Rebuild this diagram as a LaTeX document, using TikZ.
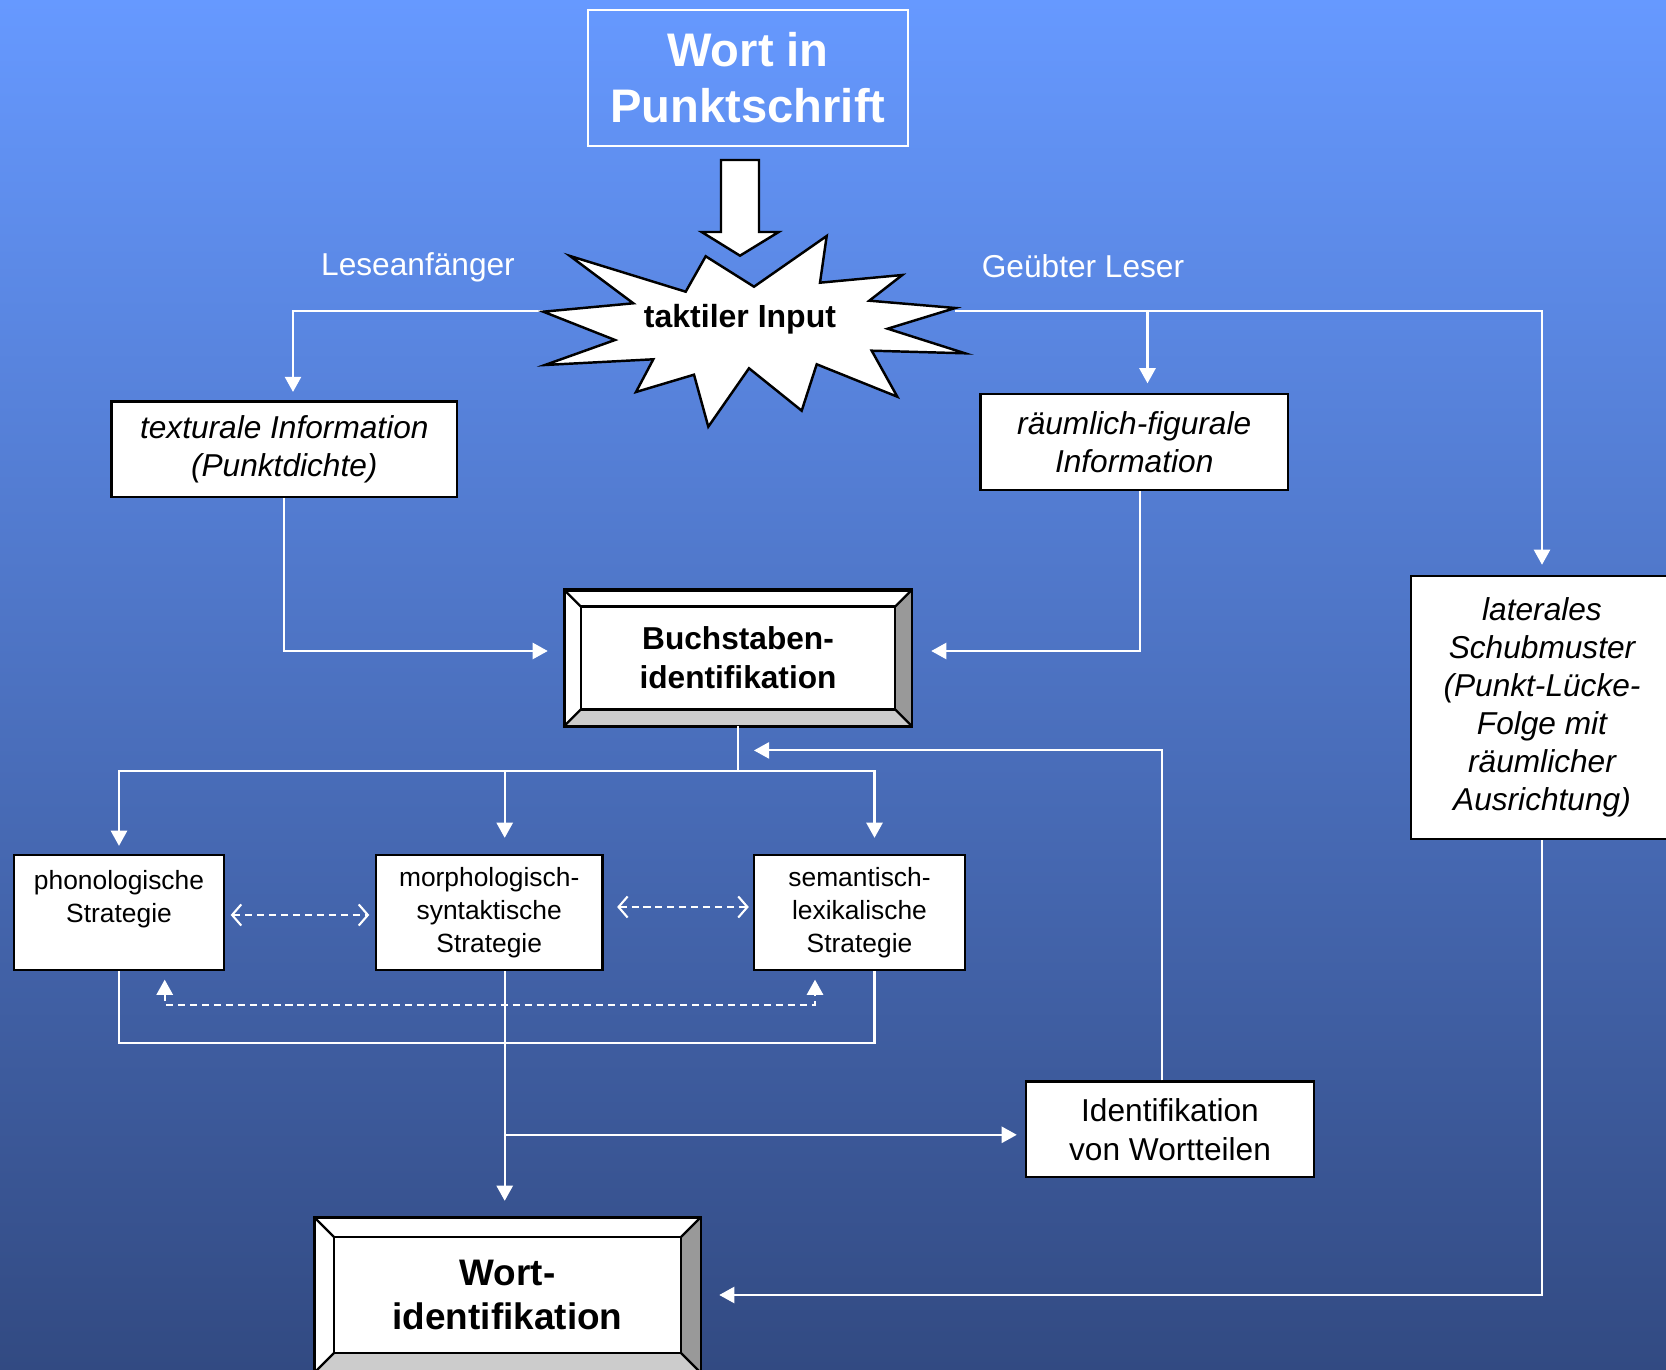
\documentclass[tikz,border=0pt]{standalone}
\usepackage{fontspec}
\setmainfont{Liberation Sans}
\usetikzlibrary{arrows.meta}

\definecolor{slidetop}{RGB}{102,153,255}
\definecolor{slidebottom}{RGB}{50,74,130}
\definecolor{bevelgrey}{RGB}{153,153,153}
\definecolor{bevellight}{RGB}{204,204,204}

\tikzset{
  frame/.style={draw=black, line width=0.65pt, fill=white, align=center, inner sep=0pt},
  strat/.style={frame, minimum height=1.15cm, font=\fontsize{7.5}{9.4}\selectfont},
  info/.style={frame, font=\fontsize{9}{10.8}\selectfont\itshape},
  flow/.style={draw=white, line width=0.6pt, -{Triangle[width=4.6pt,length=4.3pt]}},
  wire/.style={draw=white, line width=0.6pt},
  dashlink/.style={draw=white, line width=0.6pt, dash pattern=on 2pt off 1.4pt,
    {Straight Barb[width=6pt,length=2.6pt]}-{Straight Barb[width=6pt,length=2.6pt]}},
  dashtri/.style={draw=white, line width=0.6pt, dash pattern=on 2pt off 1.4pt,
    {Triangle[width=4.6pt,length=4.3pt]}-{Triangle[width=4.6pt,length=4.3pt]}}
}

% bevel round a node: #1 node name, #2 depth
\newcommand{\bevelframe}[2]{%
  \fill[bevelgrey] (#1.north east) -- (#1.south east)
    -- ([shift={(-#2,-#2)}]#1.south east) -- ([shift={(-#2,#2)}]#1.north east) -- cycle;
  \fill[bevellight] (#1.south west) -- (#1.south east)
    -- ([shift={(-#2,-#2)}]#1.south east) -- ([shift={(#2,-#2)}]#1.south west) -- cycle;
  \draw[line width=0.65pt] ([shift={(#2,#2)}]#1.north west) rectangle ([shift={(-#2,-#2)}]#1.south east);
  \draw[line width=0.65pt] (#1.north west) -- ([shift={(#2,#2)}]#1.north west)
    (#1.north east) -- ([shift={(-#2,#2)}]#1.north east)
    (#1.south west) -- ([shift={(#2,-#2)}]#1.south west)
    (#1.south east) -- ([shift={(-#2,-#2)}]#1.south east);
  \draw[line width=0.65pt] (#1.north west) rectangle (#1.south east);
}

\begin{document}
\begin{tikzpicture}[x=0.01cm, y=-0.01cm]

\useasboundingbox (0,0) rectangle (1666,1370);
\shade[top color=slidetop, bottom color=slidebottom] (0,0) rectangle (1666,1370);

% top
\node[draw=white, line width=0.45pt, minimum width=3.2cm, minimum height=1.36cm, align=center,
      text=white, font=\bfseries\fontsize{13.4}{15.9}\selectfont] (wortin) at (748,78) {Wort in\\Punktschrift};
\draw[fill=white, line width=0.7pt] (721,160) -- (759,160) -- (759,232) -- (778.7,232)
  -- (740,255.7) -- (701.7,232) -- (721,232) -- cycle;

\node[text=white, font=\fontsize{9}{11}\selectfont] (lese) at (418,267) {Leseanfänger};
\node[text=white, font=\fontsize{9}{11}\selectfont] (geuebt) at (1083,266) {Geübter Leser};

\coordinate (burstL) at (543,311);
\coordinate (burstR) at (955,311);
\coordinate (forkL) at (293,311);
\coordinate (forkR) at (1147.5,311);

% boxes
\node[info, minimum width=3.454cm, minimum height=0.954cm] (tex) at (284.3,449.3) {texturale Information\\(Punktdichte)};
\node[info, minimum width=3.07cm, minimum height=0.96cm] (raum) at (1134.2,442) {räumlich-figurale\\Information};
\node[info, minimum width=2.62cm, minimum height=2.63cm] (lat) at (1542,707.5)
  {laterales\\Schubmuster\\(Punkt-Lücke-\\Folge mit\\räumlicher\\Ausrichtung)};

\node[frame, minimum width=3.46cm, minimum height=1.345cm, font=\bfseries\fontsize{9}{11.1}\selectfont] (buch) at (738,658) {Buchstaben-\\identifikation};
\bevelframe{buch}{17}

\node[strat, minimum width=2.1cm] (phon) at (119,912.5) {phonologische\\Strategie\\\mbox{}};
\node[strat, minimum width=2.264cm] (morph) at (489.2,912.5) {morphologisch-\\syntaktische\\Strategie};
\node[strat, minimum width=2.11cm] (sem) at (859.5,912.5) {semantisch-\\lexikalische\\Strategie};

\node[frame, minimum width=2.88cm, minimum height=0.954cm, font=\fontsize{9}{11.1}\selectfont] (ident) at (1170,1129.3) {Identifikation\\von Wortteilen};

\node[frame, minimum width=3.85cm, minimum height=1.54cm, font=\bfseries\fontsize{10.5}{12.7}\selectfont] (wort) at (507.5,1295) {Wort-\\identifikation};
\bevelframe{wort}{20}

% connectors
\draw[flow, shorten >=0.85mm] (burstL) -- (forkL) -- (forkL |- tex.north);
\draw[flow, shorten >=0.95mm] (forkR) -- (forkR |- raum.north);
\draw[flow, shorten >=1mm] (burstR) -| (lat.north);
\draw[flow, shorten >=1.6mm] (tex.south) |- ([yshift=0.7mm]buch.west);
\draw[flow, shorten >=1.9mm] ([xshift=0.6mm]raum.south) |- ([yshift=0.7mm]buch.east);

\coordinate (split) at (738,771);
\draw[wire] (buch.south) -- (split);
\draw[flow, shorten >=0.8mm] (split) -| (phon.north);
\draw[flow, shorten >=1.6mm] (split) -| ([xshift=1.55mm]morph.north);
\draw[flow, shorten >=1.6mm] (split) -| ([xshift=1.5mm]sem.north);
\draw[flow] ([xshift=-0.8mm]ident.north) |- ([shift={(16,24)}]buch.south);

\draw[dashlink, shorten <=0.55mm, shorten >=0.55mm] ([yshift=-0.25mm]phon.east) -- ([yshift=-0.25mm]morph.west);
\draw[dashlink, shorten <=1.35mm, shorten >=0.4mm] ([yshift=0.55mm]morph.east) -- ([yshift=0.55mm]sem.west);

\coordinate (dashL) at (164.7,1005);
\coordinate (dashR) at (815,1005);
\draw[dashtri, shorten <=0.85mm, shorten >=0.85mm] (dashL |- phon.south) -- (dashL) -- (dashR) -- (dashR |- sem.south);

\coordinate (loopL) at (119,1043);
\coordinate (loopR) at (874.5,1043);
\draw[wire] (phon.south) -- (loopL) -- (loopR) -- (loopR |- sem.south);

\coordinate (mfoot) at ([xshift=1.55mm]morph.south);
\coordinate (iw) at ([yshift=-0.55mm]ident.west);
\draw[flow, shorten >=1.6mm] (mfoot) -- (mfoot |- wort.north);
\draw[flow, shorten >=0.8mm] (iw -| mfoot) -- (iw);
\draw[flow, shorten >=1.8mm] (lat.south) |- (wort.east);

% starburst
\draw[fill=white, line width=0.7pt] (570,256) -- (685.7,291.7) -- (705.7,256.3) -- (754,286.7)
  -- (826.7,236) -- (820,282.7) -- (902.3,275) -- (869.3,300.7) -- (955.3,308)
  -- (887.7,328.7) -- (965,353.3) -- (871.7,350.7) -- (897.3,396.7) -- (816.7,364.3)
  -- (801.7,410.7) -- (749,368.3) -- (708.3,426.7) -- (694,374.7) -- (636,392)
  -- (653.3,359.3) -- (545,365) -- (615,340) -- (543.3,311.7) -- (633.3,303.3) -- cycle;
\node[font=\bfseries\fontsize{9.1}{11}\selectfont] (input) at (740,319) {taktiler Input};

\end{tikzpicture}
\end{document}
